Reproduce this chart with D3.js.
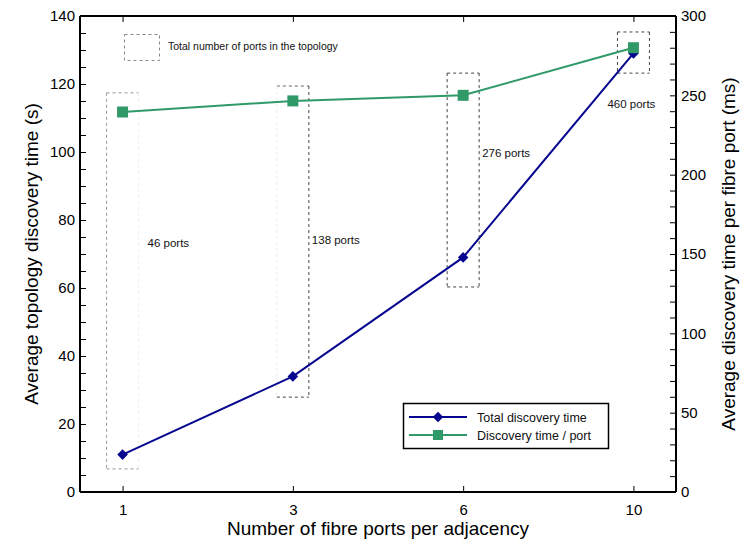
<!DOCTYPE html>
<html>
<head>
<meta charset="utf-8">
<script src="https://cdn.jsdelivr.net/npm/d3@7"></script>
<style>
  body { margin: 0; background: #fff; }
  svg { font-family: "Liberation Sans", Arial, sans-serif; }
  .axis path, .axis line { stroke: #000; }
  .axis text { font-size: 15px; fill: #000; }
</style>
</head>
<body>
<svg width="747" height="544"></svg>
<script>
const categories = ["1", "3", "6", "10"];
const totalTime = [11, 34, 69, 129];          // left axis (s)
const perPort = [239.5, 246.5, 250, 280];     // right axis (ms)
const portLabels = ["46 ports", "138 ports", "276 ports", "460 ports"];
const boxTop = [117.4, 119.4, 123.2, 135.3];  // left-axis units
const boxBottom = [6.8, 27.9, 60.3, 123.2];
const leftTicks = [0, 20, 40, 60, 80, 100, 120, 140];
const rightTicks = [0, 50, 100, 150, 200, 250, 300];

const svg = d3.select("svg"),
  margin = { top: 16, right: 71, bottom: 52, left: 80 },
  width = +svg.attr("width") - margin.left - margin.right,
  height = +svg.attr("height") - margin.top - margin.bottom;

const blue = "#06068f", green = "#2f9a68";

const x = d3.scalePoint().domain(categories).range([0, width]).padding(0.25),
  y = d3.scaleLinear().domain([0, 140]).range([height, 0]),
  y2 = d3.scaleLinear().domain([0, 300]).range([height, 0]);

const g = svg.append("g").attr("transform", `translate(${margin.left},${margin.top})`);

// dashed port boxes
const boxStyles = [
  { l: "#999", r: "#eee", t: "#999", b: "#999" },
  { l: "#eee", r: "#444", t: "#666", b: "#444" },
  { l: "#444", r: "#444", t: "#444", b: "#444" },
  { l: "#444", r: "#444", t: "#444", b: "#444" }
];
const hw = 16;
categories.forEach((c, i) => {
  const cx = x(c), yt = y(boxTop[i]), yb = y(boxBottom[i]);
  const s = boxStyles[i];
  const seg = (x1, y1, x2, y2_, col) => g.append("line")
    .attr("x1", x1).attr("y1", y1).attr("x2", x2).attr("y2", y2_)
    .attr("stroke", col).attr("stroke-width", 1).attr("stroke-dasharray", "3,3");
  seg(cx - hw, yt, cx + hw, yt, s.t);
  seg(cx - hw, yb, cx + hw, yb, s.b);
  seg(cx - hw, yt, cx - hw, yb, s.l);
  seg(cx + hw, yt, cx + hw, yb, s.r);
});

// port labels
const labelPos = [[25, 247], [19, 244], [19, 157], [-26, 108]];
categories.forEach((c, i) => {
  svg.append("text")
    .attr("x", margin.left + x(c) + labelPos[i][0])
    .attr("y", labelPos[i][1])
    .attr("font-size", 11.5).attr("fill", "#111")
    .text(portLabels[i]);
});

// axes
const tickSize = 6;
g.append("g").attr("class", "axis")
  .attr("transform", `translate(0,${height})`)
  .call(d3.axisBottom(x).tickSize(-tickSize).tickPadding(12))
  .call(a => a.select(".domain").attr("d", `M0,0H${width}`).attr("stroke-width", 2));
g.append("g").attr("class", "axis")
  .call(d3.axisTop(x).tickSize(-tickSize).tickFormat(""))
  .call(a => a.select(".domain").attr("d", `M0,0H${width}`).attr("stroke-width", 2));

const leftMinor = d3.range(0, 141, 5).filter(v => v % 20 !== 0);
g.append("g").attr("class", "axis")
  .call(d3.axisLeft(y).tickValues(leftTicks).tickSize(-tickSize).tickPadding(5))
  .call(a => a.select(".domain").attr("d", `M0,0V${height}`).attr("stroke-width", 2));
g.append("g").attr("class", "axis")
  .call(d3.axisLeft(y).tickValues(leftMinor).tickSize(-tickSize).tickFormat(""))
  .call(a => a.select(".domain").remove());

const rightMinor = d3.range(0, 301, 10).filter(v => v % 50 !== 0);
g.append("g").attr("class", "axis")
  .attr("transform", `translate(${width},0)`)
  .call(d3.axisRight(y2).tickValues(rightTicks).tickSize(-tickSize).tickPadding(5))
  .call(a => a.select(".domain").attr("d", `M0,0V${height}`).attr("stroke-width", 2));
g.append("g").attr("class", "axis")
  .attr("transform", `translate(${width},0)`)
  .call(d3.axisRight(y2).tickValues(rightMinor).tickSize(-tickSize).tickFormat(""))
  .call(a => a.select(".domain").remove());

// lines
g.append("path").datum(totalTime)
  .attr("fill", "none").attr("stroke", blue).attr("stroke-width", 2)
  .attr("d", d3.line().x((d, i) => x(categories[i])).y(d => y(d)));
g.append("path").datum(perPort)
  .attr("fill", "none").attr("stroke", green).attr("stroke-width", 2)
  .attr("d", d3.line().x((d, i) => x(categories[i])).y(d => y2(d)));

// diamond = square rotated 45 degrees
const diamond = d3.symbol().type(d3.symbolSquare).size(56);
g.selectAll(".dia").data(totalTime).enter().append("path")
  .attr("d", diamond)
  .attr("transform", (d, i) => `translate(${x(categories[i])},${y(d)}) rotate(45)`)
  .attr("fill", blue);
g.selectAll(".sq").data(perPort).enter().append("rect")
  .attr("x", (d, i) => x(categories[i]) - 5.5).attr("y", d => y2(d) - 5.5)
  .attr("width", 11).attr("height", 11).attr("fill", green);

// top-left legend
svg.append("rect").attr("x", 124.5).attr("y", 34.5).attr("width", 35).attr("height", 26)
  .attr("fill", "none").attr("stroke", "#888").attr("stroke-dasharray", "3,3");
svg.append("text").attr("x", 168).attr("y", 50).attr("font-size", 10.5).attr("fill", "#111")
  .text("Total number of ports in the topology");

// bottom legend
const lg = svg.append("g").attr("transform", "translate(403,403)");
lg.append("rect").attr("x", 0.5).attr("y", 0.5).attr("width", 205).attr("height", 45)
  .attr("fill", "#fff").attr("stroke", "#000").attr("stroke-width", 1.5);
const legendItems = [
  { name: "Total discovery time", color: blue, sym: "diamond" },
  { name: "Discovery time / port", color: green, sym: "square" }
];
legendItems.forEach((d, i) => {
  const yy = 14 + i * 18;
  lg.append("line").attr("x1", 6).attr("x2", 64).attr("y1", yy).attr("y2", yy)
    .attr("stroke", d.color).attr("stroke-width", 2);
  if (d.sym === "diamond") {
    lg.append("path").attr("d", diamond).attr("transform", `translate(35,${yy}) rotate(45)`).attr("fill", d.color);
  } else {
    lg.append("rect").attr("x", 30).attr("y", yy - 5).attr("width", 10).attr("height", 10).attr("fill", d.color);
  }
  lg.append("text").attr("x", 74).attr("y", yy + 4.5).attr("font-size", 12.5).attr("fill", "#111").text(d.name);
});

// axis titles
svg.append("text").attr("x", margin.left + width / 2 + 0).attr("y", 535)
  .attr("text-anchor", "middle").attr("font-size", 19).text("Number of fibre ports per adjacency");
svg.append("text").attr("transform", `translate(38,${margin.top + height / 2}) rotate(-90)`)
  .attr("text-anchor", "middle").attr("font-size", 19).text("Average topology discovery time (s)");
svg.append("text").attr("transform", `translate(735,${margin.top + height / 2}) rotate(-90)`)
  .attr("text-anchor", "middle").attr("font-size", 19).text("Average discovery time per fibre port (ms)");
</script>
</body>
</html>
